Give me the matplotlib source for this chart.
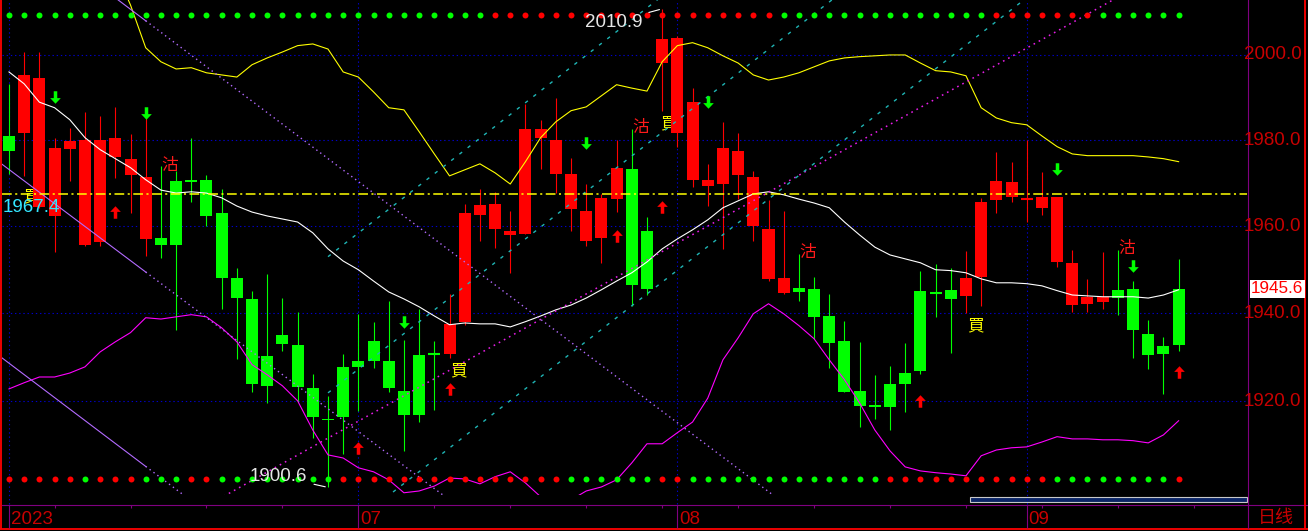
import numpy as np
import matplotlib
matplotlib.use("Agg")
import matplotlib.pyplot as plt
from matplotlib.path import Path
from matplotlib.patches import Rectangle
from matplotlib.transforms import offset_copy

plt.rcParams['font.family'] = ['Liberation Sans', 'DejaVu Sans']
plt.rcParams['lines.scale_dashes'] = False
cjk = ['Noto Sans CJK SC', 'DejaVu Sans']

# ---- daily candles (78 bars) ----
opens = [1981.0, 1981.6, 1964.5, 1962.5, 1978.0, 1955.6, 1956.3, 1976.0, 1972.0, 1957.0,
         1957.4, 1970.5, 1970.8, 1970.8, 1963.2, 1948.1, 1943.3, 1930.3, 1935.1, 1932.8,
         1923.0, 1916.0, 1927.8, 1929.2, 1933.7, 1929.2, 1922.3, 1930.5, 1930.9, 1930.8,
         1938.1, 1962.7, 1959.4, 1958.0, 1958.3, 1980.6, 1972.2, 1964.0, 1956.7, 1957.4,
         1966.3, 1973.3, 1959.0, 1998.0, 1981.8, 1970.8, 1969.4, 1969.7, 1971.8, 1960.0,
         1947.9, 1944.7, 1945.8, 1945.6, 1939.4, 1933.7, 1922.3, 1919.2, 1923.9, 1926.4,
         1945.2, 1944.8, 1945.4, 1944.0, 1948.4, 1966.2, 1966.7, 1966.3, 1964.3, 1951.7,
         1942.0, 1942.2, 1942.7, 1945.4, 1945.6, 1935.3, 1932.6, 1945.6]
closes = [1977.6, 1995.3, 1994.6, 1978.2, 1979.9, 1980.1, 1980.1, 1980.6, 1975.7, 1971.5,
          1955.8, 1955.8, 1970.3, 1962.5, 1948.2, 1943.6, 1924.0, 1923.5, 1933.1, 1923.3,
          1916.5, 1915.7, 1916.5, 1927.8, 1929.2, 1922.9, 1917.0, 1916.8, 1930.8, 1937.6,
          1963.1, 1965.0, 1965.2, 1959.0, 1982.7, 1982.7, 1980.1, 1972.2, 1963.6, 1966.6,
          1973.6, 1946.4, 1945.6, 2003.8, 2004.0, 1989.0, 1970.8, 1978.2, 1977.5, 1971.5,
          1959.4, 1948.1, 1944.9, 1939.2, 1933.3, 1922.1, 1918.9, 1918.6, 1918.6, 1923.9,
          1926.9, 1944.7, 1943.3, 1948.1, 1965.7, 1970.5, 1970.3, 1966.4, 1966.8, 1966.8,
          1951.6, 1943.8, 1943.8, 1943.4, 1936.3, 1930.6, 1930.8, 1932.8]
highs = [1993.2, 2000.7, 2000.7, 1980.6, 1982.9, 1986.6, 1985.7, 1987.8, 1981.5, 1985.7,
         1974.0, 1972.9, 1980.6, 1971.9, 1968.7, 1950.4, 1945.2, 1949.1, 1943.5, 1940.3,
         1926.2, 1921.2, 1930.8, 1939.9, 1938.1, 1942.8, 1934.0, 1941.1, 1933.7, 1944.5,
         1965.2, 1968.7, 1968.0, 1963.6, 1988.5, 1984.8, 1989.9, 1975.9, 1969.8, 1967.5,
         1980.1, 1982.7, 1962.2, 2010.9, 2004.5, 1992.3, 1974.5, 1984.3, 1981.7, 1972.9,
         1966.1, 1963.6, 1953.7, 1948.4, 1944.5, 1938.3, 1933.5, 1926.0, 1928.0, 1933.3,
         1949.8, 1951.4, 1950.4, 1954.4, 1966.6, 1977.3, 1975.0, 1980.1, 1972.6, 1966.8,
         1954.6, 1947.9, 1954.1, 1954.6, 1947.5, 1938.5, 1934.6, 1952.5]
lows = [1972.2, 1971.7, 1964.3, 1954.1, 1970.4, 1955.4, 1955.4, 1971.1, 1963.2, 1953.1,
        1952.6, 1936.3, 1965.6, 1960.0, 1940.9, 1929.6, 1922.2, 1919.7, 1931.3, 1919.9,
        1911.6, 1900.6, 1908.2, 1917.9, 1927.6, 1922.2, 1908.7, 1915.4, 1918.1, 1929.9,
        1937.4, 1956.7, 1954.9, 1949.3, 1958.2, 1973.3, 1967.7, 1959.0, 1955.4, 1951.6,
        1963.4, 1941.7, 1944.2, 1986.9, 1978.5, 1969.2, 1964.6, 1954.7, 1966.3, 1956.7,
        1947.3, 1944.4, 1942.9, 1934.2, 1927.6, 1922.0, 1914.2, 1916.0, 1913.5, 1917.6,
        1926.2, 1939.2, 1931.0, 1940.1, 1941.7, 1963.0, 1965.7, 1960.9, 1962.7, 1950.7,
        1940.2, 1940.4, 1940.9, 1939.7, 1929.9, 1927.4, 1921.7, 1931.3]

# ---- band lines ----
mid_line = [1996.0, 1993.2, 1988.9, 1987.6, 1984.8, 1980.6, 1977.8, 1975.7, 1973.6, 1970.8,
            1968.4, 1967.7, 1968.0, 1967.7, 1966.6, 1964.7, 1963.3, 1962.4, 1961.7, 1961.0,
            1958.5, 1954.8, 1952.0, 1950.0, 1947.4, 1944.9, 1943.3, 1941.5, 1939.4, 1937.4,
            1937.8, 1937.6, 1937.6, 1936.9, 1938.1, 1939.4, 1940.8, 1941.9, 1943.5, 1945.4,
            1947.4, 1949.3, 1951.8, 1954.8, 1957.1, 1959.2, 1961.5, 1964.3, 1965.9, 1967.5,
            1968.0, 1967.3, 1966.3, 1965.4, 1964.3, 1961.0, 1958.0, 1955.2, 1953.4, 1952.5,
            1951.6, 1950.0, 1949.8, 1949.3, 1947.9, 1947.0, 1947.0, 1946.8, 1946.3, 1945.2,
            1944.2, 1944.0, 1943.8, 1943.8, 1943.8, 1943.5, 1944.2, 1945.4]
upper_line = [np.nan] * 7 + [
    2020.1, 2011.8, 2001.7, 1998.4, 1996.7, 1997.0, 1995.8, 1995.3, 1994.8, 1997.7,
    1999.3, 2000.7, 2002.2, 2002.6, 2001.4, 1996.0, 1994.8, 1991.3, 1987.6, 1987.1,
    1982.0, 1976.8, 1971.7, 1973.1, 1974.5, 1972.4, 1969.8, 1975.0, 1980.6, 1984.3,
    1986.9, 1987.8, 1990.4, 1993.0, 1992.2, 1991.5, 1998.4, 2002.2, 2002.9, 2001.7,
    1999.8, 1998.1, 1995.3, 1994.1, 1994.8, 1995.8, 1997.2, 1998.6, 1999.3, 1999.6,
    1999.8, 2000.0, 2000.0, 1998.1, 1996.3, 1996.0, 1995.1, 1987.6, 1985.2, 1984.1,
    1983.6, 1981.0, 1978.5, 1976.8, 1976.4, 1976.4, 1976.4, 1976.4, 1976.1, 1975.7,
    1975.0]
lower_line = [1922.8, 1924.2, 1925.5, 1925.5, 1926.4, 1927.8, 1931.2, 1933.5, 1935.6, 1939.0,
              1938.7, 1939.2, 1939.7, 1939.2, 1936.7, 1933.5, 1928.3, 1926.0, 1923.5, 1920.1,
              1913.5, 1907.9, 1907.2, 1905.0, 1904.1, 1902.3, 1899.4, 1899.8, 1900.9, 1902.7,
              1902.5, 1901.4, 1903.0, 1904.1, 1901.6, 1898.5, 1896.7, 1897.8, 1899.8, 1900.7,
              1902.3, 1906.1, 1910.4, 1910.4, 1912.9, 1915.3, 1920.7, 1929.4, 1934.4, 1939.9,
              1942.2, 1939.9, 1937.2, 1934.2, 1929.4, 1924.9, 1919.6, 1913.5, 1908.8, 1905.2,
              1904.3, 1903.9, 1903.6, 1903.2, 1907.7, 1909.0, 1909.5, 1909.7, 1910.8, 1912.0,
              1911.5, 1911.5, 1911.3, 1911.3, 1911.1, 1910.6, 1912.4, 1915.6]

# ---- signal dots (G = green, R = red) ----
top_dots = "G" * 32 + "R" * 19 + "G" * 14 + "R" * 7 + "G" * 6
bottom_dots = ("R" * 5 + "G" + "R" * 3 + "G" * 3 + "R" * 2 + "G" * 8 + "R" * 15 + "G" * 6
               + "R" * 2 + "G" * 13 + "R" * 11 + "G" * 8 + "R")

# ---- trend lines: (index, price) end points ----
down_lines = [[(-1.25, 1976.5), (29.43, 1896.7)],
              [(-1.25, 1931.9), (12.35, 1896.7)],
              [(6.31, 2015.4), (51.15, 1896.7)]]
up_magenta = [(13.13, 1896.7), (73.86, 2015.4)]
cyan_lines = [[(21.0, 1953.0), (43.52, 2015.4)],
              [(21.0, 1921.9), (55.02, 2015.4)],
              [(24.2, 1896.7), (67.66, 2015.4)]]

# ---- signals ----
down_arrow_idx = [3, 9, 26, 38, 46, 69, 74]
down_arrow_px = [1990.1, 1986.4, 1938.1, 1979.4, 1989.0, 1973.3, 1950.9]
up_arrow_idx = [7, 23, 29, 40, 43, 60, 77]
up_arrow_px = [1963.3, 1909.5, 1922.8, 1957.8, 1964.5, 1920.1, 1926.7]
sell_idx = [10.6, 41.6, 52.6, 73.6]
sell_px = [1974.0, 1982.9, 1953.9, 1954.8]
buy_idx = [1.5, 29.6, 43.4, 63.6]
buy_px = [1966.8, 1926.9, 1983.8, 1937.2]

ref_level = 1967.4
last_price = 1945.6
grid_levels = [1920, 1940, 1960, 1980, 2000]
month_idx = [0, 23, 44, 67]
month_labels = ['2023', '07', '08', '09']
minor_ticks = [3, 8, 13, 18, 28, 33, 38, 43, 48, 53, 58, 63, 68, 73, 78]

# ---- figure ----
W, H = 1308, 531
fig = plt.figure(figsize=(W / 100, H / 100), dpi=100, facecolor='black')
frame = fig.add_axes([0, 0, 1, 1])
frame.set_xlim(0, W)
frame.set_ylim(H, 0)
frame.axis('off')
frame.set_zorder(0)

PL, PR, PB = 2, 1247, 495
ax = fig.add_axes([PL / W, 1 - PB / H, (PR - PL) / W, PB / H])
ax.set_zorder(1)
ax.patch.set_visible(False)
ax.axis('off')
ax.set_yscale('log')

x = np.arange(len(opens))
o, c = np.array(opens), np.array(closes)
h, l = np.array(highs), np.array(lows)
col = np.where(c >= o, '#ff0000', '#00ff00')

# grid
for v in grid_levels:
    ax.axhline(v, color='#0000c8', lw=0.8, ls=(0, (1, 2)), zorder=1)
xt = ax.get_xaxis_transform()
ax.vlines(month_idx, -9 / PB, 1, colors='#0000c8', lw=0.8, linestyles=[(0, (1, 2))],
          transform=xt, clip_on=False, zorder=1)

# buy / sell text (behind candles)
for i, p in zip(sell_idx, sell_px):
    ax.text(i, p, '沽', color='#ff1a1a', fontsize=12, family=cjk, ha='center', va='center', zorder=2)
for i, p in zip(buy_idx, buy_px):
    ax.text(i, p, '買', color='#ffff00', fontsize=12, family=cjk, ha='center', va='center', zorder=2)

# candles
ax.vlines(x, l, h, colors=col, lw=0.8, zorder=3)
bot = np.minimum(o, c)
top = np.maximum(o, c)
ax.bar(x, top - bot, bottom=bot, width=0.79, color=col, linewidth=0, zorder=4)
flat = (top - bot) < 0.25
ax.hlines(c[flat], x[flat] - 0.4, x[flat] + 0.4, colors=col[flat], lw=1.5, zorder=4)

# bands
ax.plot(x, mid_line, color='white', lw=0.8, zorder=5)
ax.plot(x, upper_line, color='#ffff00', lw=0.8, zorder=5)
ax.plot(x, lower_line, color='#ff00ff', lw=0.8, zorder=5)


def log_point(p0, p1, xi):
    t = (xi - p0[0]) / (p1[0] - p0[0])
    return np.exp(np.log(p0[1]) + t * (np.log(p1[1]) - np.log(p0[1])))


# descending trend lines: solid up to bar 9, dotted after
for p0, p1 in down_lines:
    ym = log_point(p0, p1, 9)
    if p0[0] < 9:
        ax.plot([p0[0], 9], [p0[1], ym], color='#b36bff', lw=0.8, zorder=5)
        ax.plot([9, p1[0]], [ym, p1[1]], color='#b36bff', lw=1.0, ls=(0, (1, 2.5)), zorder=5)
    else:
        ax.plot([p0[0], p1[0]], [p0[1], p1[1]], color='#b36bff', lw=1.0, ls=(0, (1, 2.5)), zorder=5)
ax.plot([up_magenta[0][0], up_magenta[1][0]], [up_magenta[0][1], up_magenta[1][1]],
        color='#e81ee8', lw=1.1, ls=(0, (1.2, 3)), zorder=5)
for p0, p1 in cyan_lines:
    ax.plot([p0[0], p1[0]], [p0[1], p1[1]], color='#1fb5b5', lw=1.0, ls=(0, (2.5, 5)), zorder=5)

# reference level
ax.axhline(ref_level, color='#ffff00', lw=1.1, ls=(0, (7, 2.5, 1.5, 2.5)), zorder=6)

# arrows
arrow_up = Path([(0, 1), (0.85, 0.1), (0.28, 0.1), (0.28, -1), (-0.28, -1),
                 (-0.28, 0.1), (-0.85, 0.1), (0, 1)])
arrow_down = Path([(vx, -vy) for vx, vy in arrow_up.vertices])
ax.plot(up_arrow_idx, up_arrow_px, ls='none', marker=arrow_up, ms=9, color='#ff0000',
        mew=0, zorder=7)
ax.plot(down_arrow_idx, down_arrow_px, ls='none', marker=arrow_down, ms=9, color='#00ff00',
        mew=0, zorder=7)

# signal dots rows
for row, yfrac in ((top_dots, 1 - 15 / PB), (bottom_dots, 1 - 479 / PB)):
    for key, cc in (('G', '#00ff00'), ('R', '#ff0000')):
        idx = [i for i, s in enumerate(row) if s == key]
        ax.plot(idx, [yfrac] * len(idx), ls='none', marker='o', ms=4.3, mew=0, color=cc,
                transform=xt, zorder=6)

# high / low labels
hi = int(np.argmax(highs))
lo = int(np.argmin(lows))
ax.annotate(f'{highs[hi]:.1f}', xy=(hi, highs[hi]), xytext=(-14.5, -9.5), textcoords='offset points',
            ha='right', va='center', color='#e6e6e6', fontsize=13.5,
            arrowprops=dict(arrowstyle='-', color='white', lw=0.8, shrinkA=3, shrinkB=2),
            annotation_clip=False, zorder=8)
ax.annotate(f'{lows[lo]:.1f}', xy=(lo, lows[lo]), xytext=(-15, 8), textcoords='offset points',
            ha='right', va='center', color='#e6e6e6', fontsize=13.5,
            arrowprops=dict(arrowstyle='-', color='white', lw=0.8, shrinkA=3, shrinkB=2),
            annotation_clip=False, zorder=8)

yt = ax.get_yaxis_transform()
ax.annotate(f'{ref_level:.1f}', xy=(0, ref_level), xycoords=yt, xytext=(0.5, -9.2),
            textcoords='offset points', ha='left', va='center', color='#33e6ff',
            fontsize=13.5, zorder=9)

# right axis labels
for v in grid_levels:
    ax.text((1244 - PL) / (PR - PL), v, f'{v:.1f}', transform=yt, color='#c80000',
            fontsize=13.5, ha='left', va='center', clip_on=False, zorder=9)
ax.text((1251 - PL) / (PR - PL), last_price, f'{last_price:.1f}', transform=yt, color='#ff0000',
        fontsize=12.3, ha='left', va='center', clip_on=False, zorder=10,
        bbox=dict(boxstyle='square,pad=0.08', fc='white', ec='none'))

# bottom axis
ax.vlines(minor_ticks, -9.5 / PB, -12.5 / PB, colors='#800080', lw=0.8, transform=xt, clip_on=False)
ax.vlines(month_idx, -9.5 / PB, -32.5 / PB, colors='#800080', lw=0.8, transform=xt, clip_on=False)
lab_tr = offset_copy(xt, fig=fig, x=2, y=0, units='dots')
for i, lab in zip(month_idx, month_labels):
    ax.text(i, -24.5 / PB, lab, transform=lab_tr, color='#c80000', fontsize=13.5,
            ha='left', va='center', clip_on=False)

ax.set_xlim((PL - 9) / 15.19, (PR - 9) / 15.19)
ax.set_ylim(1898.9, 2013.0)

# frame lines and scroll bar
frame.plot([1, 1], [0, 528], color='#ff0000', lw=1.3)
frame.plot([2, W], [504.5, 504.5], color='#800080', lw=0.8)
frame.plot([0, W], [528.5, 528.5], color='#ff0000', lw=1.3)
frame.plot([1248, 1248], [0, 528], color='#800080', lw=0.8)
frame.plot([1304.5, 1304.5], [0, 528], color='#ff0000', lw=1.3)
frame.add_patch(Rectangle((970, 496.5), 277, 5.5, fc='#0a2466', ec='#c8c8c8', lw=0.8))
frame.text(1276, 518, '日线', color='#c80000', fontsize=13, family=cjk, ha='center', va='center')

fig.savefig('out.png', dpi=100, facecolor='black')
